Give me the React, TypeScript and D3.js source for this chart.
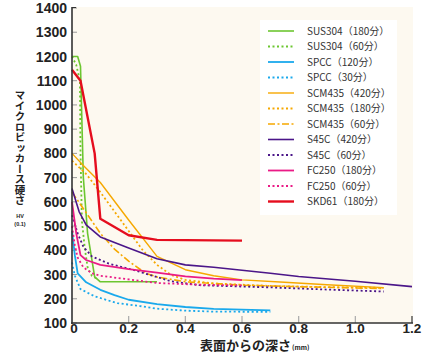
import React from "react";
import * as d3 from "d3";

// ---- data (depth mm, hardness HV0.1) ----
const sus304_180: [number, number][] = [[0, 1200], [0.02, 1200], [0.03, 1160], [0.04, 700], [0.055, 470], [0.08, 290], [0.1, 270], [0.3, 270]];
const sus304_60: [number, number][] = [[0, 1200], [0.015, 1165], [0.028, 1100], [0.03, 800], [0.035, 520], [0.045, 410], [0.055, 330], [0.07, 295], [0.085, 285]];
const spcc_120: [number, number][] = [[0, 480], [0.01, 380], [0.02, 305], [0.05, 268], [0.1, 237], [0.15, 215], [0.2, 196], [0.3, 178], [0.4, 166], [0.5, 158], [0.6, 155], [0.7, 152]];
const spcc_30: [number, number][] = [[0, 350], [0.01, 295], [0.03, 240], [0.08, 210], [0.16, 182], [0.24, 170], [0.3, 159], [0.4, 151], [0.5, 147], [0.7, 146]];
const scm435_420: [number, number][] = [[0, 800], [0.04, 750], [0.1, 680], [0.2, 525], [0.3, 375], [0.4, 320], [0.5, 295], [0.6, 278], [0.75, 268], [0.9, 258], [1.1, 246]];
const scm435_180: [number, number][] = [[0, 770], [0.05, 715], [0.1, 640], [0.15, 560], [0.2, 480], [0.25, 400], [0.3, 340], [0.35, 298], [0.4, 278], [0.5, 263], [0.7, 253], [0.9, 248], [1.1, 245]];
const scm435_60: [number, number][] = [[0, 640], [0.05, 555], [0.1, 470], [0.15, 405], [0.2, 355], [0.26, 305], [0.3, 290], [0.4, 270], [0.6, 256], [0.8, 250], [1.1, 242]];
const s45c_420: [number, number][] = [[0, 655], [0.025, 560], [0.05, 505], [0.1, 455], [0.2, 410], [0.3, 365], [0.4, 340], [0.5, 330], [0.6, 318], [0.7, 305], [0.8, 292], [1.0, 272], [1.2, 250]];
const s45c_60: [number, number][] = [[0, 545], [0.02, 470], [0.04, 415], [0.07, 375], [0.13, 345], [0.22, 318], [0.27, 300], [0.35, 272], [0.45, 256], [0.7, 247], [0.9, 238], [1.1, 230]];
const fc250_180: [number, number][] = [[0, 600], [0.015, 470], [0.03, 380], [0.05, 360], [0.1, 340], [0.2, 322], [0.3, 308], [0.4, 292], [0.5, 283], [0.6, 277]];
const fc250_60: [number, number][] = [[0, 500], [0.01, 420], [0.02, 370], [0.04, 330], [0.07, 305], [0.1, 295], [0.2, 280], [0.3, 265], [0.45, 258], [0.6, 255]];
const skd61_180: [number, number][] = [[0, 1145], [0.03, 1100], [0.08, 800], [0.1, 530], [0.2, 462], [0.3, 443], [0.6, 440]];

const seriesNames = ["SUS304（180分）", "SUS304（60分）", "SPCC（120分）", "SPCC（30分）", "SCM435（420分）", "SCM435（180分）", "SCM435（60分）", "S45C（420分）", "S45C（60分）", "FC250（180分）", "FC250（60分）", "SKD61（180分）"];
const seriesData = [sus304_180, sus304_60, spcc_120, spcc_30, scm435_420, scm435_180, scm435_60, s45c_420, s45c_60, fc250_180, fc250_60, skd61_180];
const seriesColors = ["#6cc630", "#6cc630", "#1aa9ec", "#1aa9ec", "#f6a800", "#f6a800", "#f6a800", "#4b1689", "#4b1689", "#ea1b86", "#ea1b86", "#e50d1e"];
const seriesDash = ["", "2,2.5", "", "2,2.5", "", "2,2.5", "7,2.5,2,2.5", "", "2,2.5", "", "2,2.5", ""];
const seriesWidth = [1.6, 1.8, 1.8, 1.8, 1.4, 1.8, 1.6, 1.6, 1.8, 1.8, 1.8, 2.4];

const yTicks = [100, 200, 300, 400, 500, 600, 700, 800, 900, 1000, 1100, 1200, 1300, 1400];
const xTicks = [0, 0.2, 0.4, 0.6, 0.8, 1.0, 1.2];
const xTickLabels = ["0", "0.2", "0.4", "0.6", "0.8", "1.0", "1.2"];

export default function App() {
  const W = 435, H = 355;
  const x = d3.scaleLinear().domain([0, 1.2]).range([72, 412]);
  const y = d3.scaleLinear().domain([100, 1400]).range([323, 8]);
  const line = d3.line<[number, number]>().x(d => x(d[0])).y(d => y(d[1]));
  const numFont = "'Liberation Sans', Arial, sans-serif";
  const jpFont = "'Noto Sans CJK JP', sans-serif";

  return (
    <svg width={W} height={H} style={{ position: "absolute", left: 0, top: 0, background: "#fff" }}>
      <rect x={72} y={7} width={341} height={316} fill="#fdf9f0" />
      {/* y ticks */}
      {yTicks.map(t => (
        <g key={"y" + t}>
          <line x1={72} x2={77} y1={y(t)} y2={y(t)} stroke="#999" strokeWidth={1} />
          <text x={67} y={y(t)} dy="0.36em" textAnchor="end" fontFamily={numFont} fontWeight="bold" fontSize={14} fill="#222">{t}</text>
        </g>
      ))}
      {/* x ticks */}
      {xTicks.map((t, i) => (
        <g key={"x" + t}>
          {i > 0 && <line x1={x(t)} x2={x(t)} y1={323} y2={316} stroke={i === xTicks.length - 1 ? "#333" : "#aaa"} strokeWidth={1.2} />}
          <text x={x(t) + (i === 0 ? 2 : 0)} y={333} textAnchor="middle" fontFamily={numFont} fontWeight="bold" fontSize={13.5} fill="#222">{xTickLabels[i]}</text>
        </g>
      ))}
      {/* series */}
      {seriesData.map((d, i) => (
        <path key={"s" + i} d={line(d) || ""} fill="none" stroke={seriesColors[i]} strokeWidth={seriesWidth[i]} strokeDasharray={seriesDash[i] || undefined} strokeLinejoin="round" />
      ))}
      {/* axes */}
      <line x1={72} x2={72} y1={7} y2={324} stroke="#333" strokeWidth={1.6} />
      <line x1={71} x2={413} y1={323} y2={323} stroke="#333" strokeWidth={1.6} />
      <line x1={72} x2={76} y1={7.5} y2={7.5} stroke="#333" strokeWidth={1} />
      {/* legend */}
      <rect x={260} y={20} width={137} height={195} fill="#ffffff" />
      {seriesNames.map((n, i) => {
        const ly = 31 + i * 15.5;
        return (
          <g key={"l" + i}>
            <line x1={268} x2={294} y1={ly} y2={ly} stroke={seriesColors[i]} strokeWidth={seriesWidth[i]} strokeDasharray={seriesDash[i] || undefined} />
            <text x={307} y={ly} dy="0.36em" fontFamily={jpFont} fontSize={10} fill="#333">{n}</text>
          </g>
        );
      })}
      {/* y label */}
      <text x={20} y={90} fontFamily={jpFont} fontWeight="bold" fontSize={10.5} fill="#222" style={{ writingMode: "vertical-rl" as any }}>マイクロビッカース硬さ</text>
      <text x={20} y={218} textAnchor="middle" fontFamily={numFont} fontWeight="bold" fontSize={5.5} fill="#222">HV</text>
      <text x={20} y={226} textAnchor="middle" fontFamily={numFont} fontWeight="bold" fontSize={5.5} fill="#222">(0.1)</text>
      {/* x label */}
      <text x={200} y={350} fontFamily={jpFont} fontWeight="bold" fontSize={13} fill="#222">表面からの深さ<tspan fontSize={6.5} dx={1}>(mm)</tspan></text>
    </svg>
  );
}
